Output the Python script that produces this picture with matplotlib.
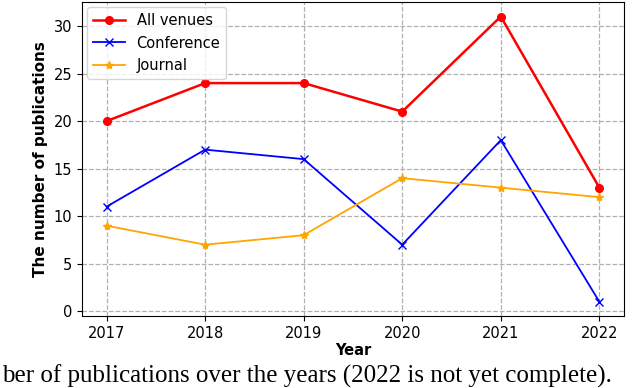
import matplotlib
matplotlib.use("Agg")
import matplotlib.pyplot as plt

years = [2017, 2018, 2019, 2020, 2021, 2022]
all_venues = [20, 24, 24, 21, 31, 13]
conference = [11, 17, 16, 7, 18, 1]
journal = [9, 7, 8, 14, 13, 12]

fig = plt.figure(figsize=(6.4, 3.88), dpi=100)
ax = fig.add_axes([0.128, 0.1856, 0.847, 0.8085])

ax.plot(years, all_venues, color="red", marker="o", markersize=5.5, linewidth=1.8, label="All venues")
ax.plot(years, conference, color="blue", marker="x", markersize=6, linewidth=1.3, label="Conference")
ax.plot(years, journal, color="orange", marker="*", markersize=6, linewidth=1.3, label="Journal")

ax.set_xticks(years)
ax.set_yticks([0, 5, 10, 15, 20, 25, 30])
ax.tick_params(labelsize=10.5)
ax.grid(True, linestyle="--", color="#b0b0b0", linewidth=0.9)
ax.set_xlabel("Year", fontsize=10.5, fontweight="bold", labelpad=2)
ax.set_ylabel("The number of publications", fontsize=11, fontweight="bold", labelpad=4)
ax.legend(loc="upper left", fontsize=10.5, handlelength=2.2, borderaxespad=0.35)

fig.text(0.003, 0.013, "ber of publications over the years (2022 is not yet complete).",
         ha="left", va="baseline", fontsize=18, family="Liberation Serif")

fig.savefig("out.png", dpi=100)
